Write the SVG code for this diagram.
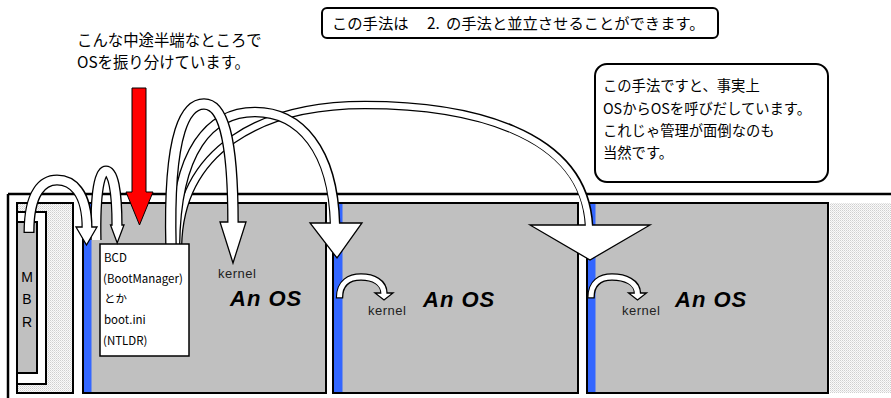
<svg xmlns="http://www.w3.org/2000/svg" width="891" height="398" viewBox="0 0 891 398">
<defs>
<pattern id="dots" width="2" height="2" patternUnits="userSpaceOnUse">
<rect width="2" height="2" fill="#fafafa"/>
<rect width="1" height="1" fill="#cfcfcf"/>
<rect x="1" y="1" width="1" height="1" fill="#e2e2e2"/>
</pattern>
<style>
.jp{font-family:"Noto Sans CJK JP","Noto Sans",sans-serif;fill:#000}
.lat{font-family:"Liberation Sans",Arial,sans-serif;fill:#000}
.os{font-family:"Liberation Sans",Arial,sans-serif;font-weight:bold;font-style:italic;font-size:22px;letter-spacing:1px;fill:#000}
.kern{font-family:"Liberation Sans",Arial,sans-serif;font-size:13px;letter-spacing:0.5px;fill:#222}
.panel{fill:#c0c0c0;stroke:#000;stroke-width:2}
.blue{fill:#3366ff}
.ob{fill:none;stroke:#000}
.iw{fill:none;stroke:#fff}
.head{fill:#fff;stroke:#000;stroke-width:1.3;stroke-linejoin:miter}
.box{fill:#fff;stroke:#000;stroke-width:2}
</style>
</defs>
<rect width="891" height="398" fill="#fff"/>

<!-- frame -->
<g id="frame">
<line x1="8" y1="194" x2="891" y2="194" stroke="#000" stroke-width="2.5"/>
<line x1="8" y1="194" x2="8" y2="398" stroke="#000" stroke-width="2.5"/>
<rect x="830" y="203" width="61" height="190" fill="url(#dots)"/>
</g>

<!-- MBR region -->
<g id="mbr">
<rect x="17" y="203" width="56" height="190" fill="url(#dots)" stroke="#000" stroke-width="2"/>
<rect x="17" y="212" width="29" height="172" fill="#fff" stroke="#000" stroke-width="2"/>
<rect x="17" y="222" width="20" height="151" fill="#c0c0c0" stroke="#000" stroke-width="2"/>
<text class="lat" font-size="14" text-anchor="middle" x="27" y="282">M</text>
<text class="lat" font-size="14" text-anchor="middle" x="27" y="304">B</text>
<text class="lat" font-size="14" text-anchor="middle" x="27" y="327">R</text>
</g>

<!-- OS panels -->
<g id="os1">
<rect class="panel" x="83" y="203" width="243" height="190"/>
<rect class="blue" x="84" y="204" width="7.5" height="188"/>
<text class="kern" x="218" y="278">kernel</text>
<text class="os" x="230" y="306">An OS</text>
</g>
<g id="os2">
<rect class="panel" x="333" y="203" width="245" height="190"/>
<rect class="blue" x="334" y="204" width="8.5" height="188"/>
<text class="kern" x="368" y="315">kernel</text>
<text class="os" x="423" y="307">An OS</text>
</g>
<g id="os3">
<rect class="panel" x="587" y="203" width="241" height="190"/>
<rect class="blue" x="588" y="204" width="7.5" height="188"/>
<text class="kern" x="622" y="315">kernel</text>
<text class="os" x="675" y="307">An OS</text>
</g>

<!-- connectors -->
<g id="connectors">
<!-- C: BCD -> OS3 -->
<path class="ob" stroke-width="8.6" d="M178,246 C180,150 260,105 365,105 C465,105 584,130 589,225"/>
<polygon class="head" points="530,225 650,225 590,260"/>
<path class="iw" stroke-width="6" d="M178,246 C180,150 260,105 365,105 C465,105 584,130 589,227"/>
<!-- B: BCD -> OS2 -->
<path class="ob" stroke-width="10.6" d="M175,246 C176,150 210,112 255,112 C300,112 333,150 335,223"/>
<polygon class="head" points="310,223 362,223 337,258"/>
<path class="iw" stroke-width="8" d="M175,246 C176,150 210,112 255,112 C300,112 333,150 335,225"/>
<!-- A: BCD -> kernel (OS1) -->
<path class="ob" stroke-width="11.6" d="M171,246 C168,128 187,104 204,104 C222,104 233,135 233,222"/>
<polygon class="head" points="220,222 246,222 233,263"/>
<path class="iw" stroke-width="9" d="M171,246 C168,128 187,104 204,104 C222,104 233,135 233,224"/>
</g>

<!-- BCD box -->
<g id="bcd">
<rect x="100" y="244" width="89" height="112" fill="#fff" stroke="#000" stroke-width="1.5"/>
<text class="jp" font-size="11.5" x="104" y="262">BCD</text>
<text class="jp" font-size="11.5" x="103" y="283">(BootManager)</text>
<text class="jp" font-size="11.5" x="104" y="303">とか</text>
<text class="jp" font-size="11.5" x="104" y="324">boot.ini</text>
<text class="jp" font-size="11.5" x="103" y="345">(NTLDR)</text>
</g>

<g id="boot-arrows">
<!-- PBR -> BCD -->
<path class="ob" stroke-width="11.2" d="M96,240 C95,190 100,171 106,171 C113,171 117,190 117,225"/>
<polygon class="head" points="110.5,225 124,225 117.2,243"/>
<path class="iw" stroke-width="8.6" d="M96,240 C95,190 100,171 106,171 C113,171 117,190 117,227"/>
<!-- MBR -> PBR -->
<path class="ob" stroke-width="11" d="M29,233 C29,192 43,180 57,180 C72,180 87,192 87,227"/>
<polygon class="head" points="76,227 97,227 86.5,245"/>
<path class="iw" stroke-width="8.4" d="M29,231.7 C29,192 43,180 57,180 C72,180 87,192 87,229"/>
</g>

<!-- red arrow -->
<g id="red-arrow">
<polygon points="132,88 146,88 146,192 153,192 139.5,225 126,192 132,192" fill="#ff0000" stroke="#000" stroke-width="1"/>
</g>

<!-- kernel call arrows -->
<g id="kernel-arrows">
<path class="ob" stroke-width="7.4" d="M339.5,298.5 C339.5,282 350,277 361,277 C373,277 384,282 384,293"/>
<polygon class="head" points="375,293 393,293 384,300"/>
<path class="iw" stroke-width="5" d="M339.5,297.3 C339.5,282 350,277 361,277 C373,277 384,282 384,294.5"/>
<path class="ob" stroke-width="7.4" d="M591,298.5 C591,282 601,277 612,277 C625,277 637.5,282 637.5,293"/>
<polygon class="head" points="628.5,293 646.5,293 637.5,300"/>
<path class="iw" stroke-width="5" d="M591,297.3 C591,282 601,277 612,277 C625,277 637.5,282 637.5,294.5"/>
</g>

<!-- notes -->
<g id="note-left">
<text class="jp" font-size="15.4" x="77" y="46">こんな中途半端なところで</text>
<text class="jp" font-size="15.4" x="77" y="68">OSを振り分けています。</text>
</g>
<g id="note-top">
<rect class="box" x="322" y="8" width="396" height="30" rx="5"/>
<text class="jp" font-size="15.3" y="29"><tspan x="332">この手法は</tspan><tspan x="427">2.</tspan><tspan x="446">の手法と並立させることができます。</tspan></text>
</g>
<g id="note-right">
<rect class="box" x="595" y="64" width="233" height="118" rx="12"/>
<text class="jp" font-size="14.3" x="603" y="91">この手法ですと、事実上</text>
<text class="jp" font-size="14.3" x="603" y="114">OSからOSを呼びだしています。</text>
<text class="jp" font-size="14.3" x="603" y="136">これじゃ管理が面倒なのも</text>
<text class="jp" font-size="14.3" x="603" y="158">当然です。</text>
</g>
</svg>
